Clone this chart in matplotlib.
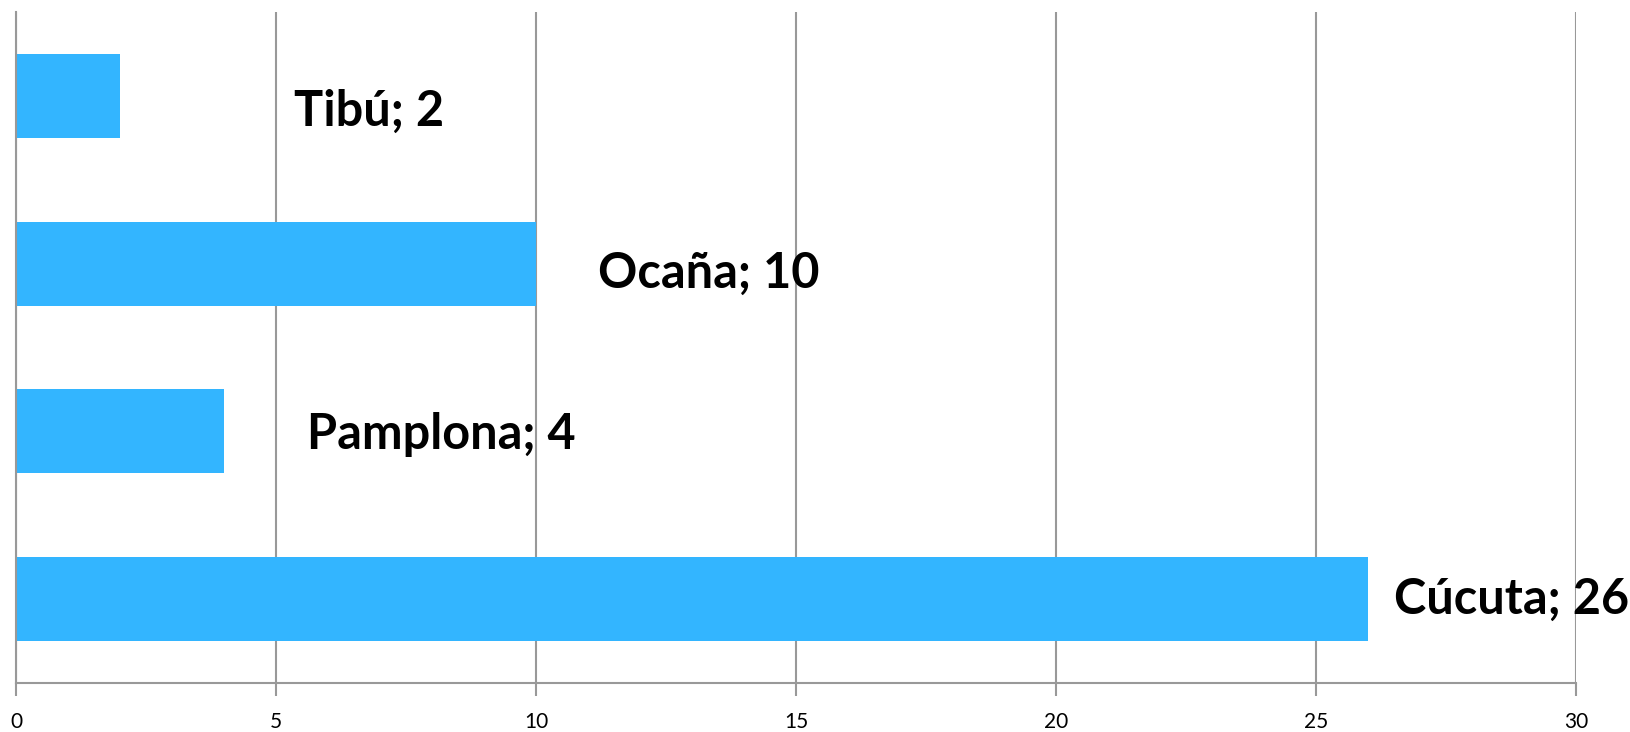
import matplotlib.pyplot as plt

cities = ["Tibú", "Ocaña", "Pamplona", "Cúcuta"]
values = [2, 10, 4, 26]
x_ticks = [0, 5, 10, 15, 20, 25, 30]

# where each label starts (x in data units) and a small vertical nudge
label_x = [5.35, 11.2, 5.6, 26.5]
label_dy = [0.09, 0.06, 0.02, 0.0]

plt.rcParams['font.family'] = ['Lato', 'DejaVu Sans']

fig = plt.figure(figsize=(16.3, 7.32), dpi=100)
ax = fig.add_axes([0.0098, 0.0669, 0.9571, 0.9167])

ypos = list(range(len(cities)))
ax.barh(ypos, values, height=0.5, color="#33B5FF", zorder=2)

for y, name, v, lx, dy in zip(ypos, cities, values, label_x, label_dy):
    ax.text(lx, y + dy, f"{name}; {v}", fontsize=35, fontweight="bold",
            va="center", ha="left", color="black", zorder=3, clip_on=False)

ax.set_xlim(0, 30)
ax.set_ylim(len(cities) - 0.5, -0.5)
ax.set_xticks(x_ticks)
ax.set_xticklabels([str(t) for t in x_ticks], fontsize=15)
ax.set_yticks([])
ax.grid(axis="x", color="#999999", linewidth=1.5, zorder=0)
ax.tick_params(axis="x", length=9, width=1.5, color="#999999", pad=12)

for s in ["top", "right"]:
    ax.spines[s].set_visible(False)
for s in ["left", "bottom"]:
    ax.spines[s].set_color("#999999")
    ax.spines[s].set_linewidth(1.5)

fig.savefig("out.png", dpi=100)
